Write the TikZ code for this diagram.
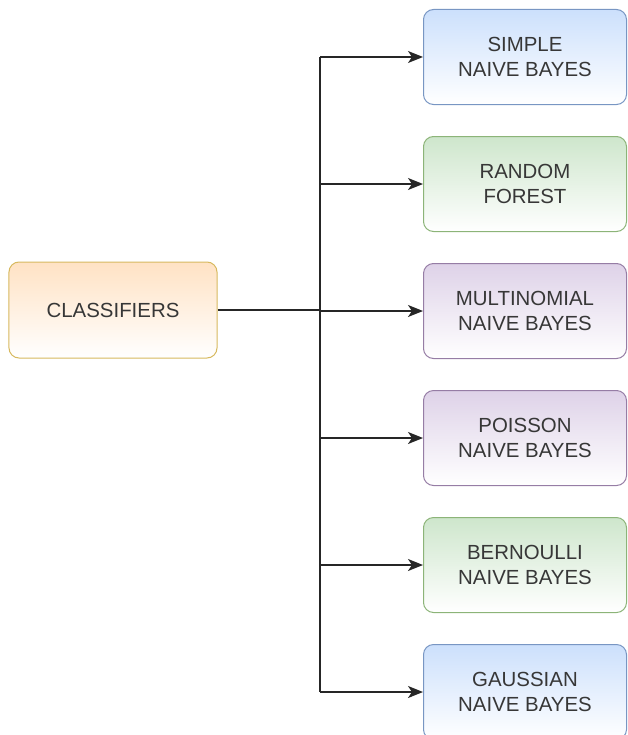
\documentclass[tikz,border=0pt]{standalone}
\usepackage{fontspec}
\setmainfont{Liberation Sans}
\usepackage{xcolor}
\usepackage{tikz}
\usetikzlibrary{arrows.meta, positioning, calc}
\definecolor{txtgray}{RGB}{55,55,55}
\definecolor{bluefill}{RGB}{204,224,252}
\definecolor{blueline}{RGB}{120,150,195}
\definecolor{greenfill}{RGB}{206,230,204}
\definecolor{greenline}{RGB}{140,180,120}
\definecolor{purplefill}{RGB}{222,210,232}
\definecolor{purpleline}{RGB}{150,125,165}
\definecolor{orangefill}{RGB}{255,226,196}
\definecolor{orangeline}{RGB}{215,185,95}

\begin{document}
\begin{tikzpicture}[
    x=1bp, y=-1bp,
    algo/.style={draw, line width=1bp, rounded corners=10bp, minimum width=203bp,
                minimum height=95bp, align=center, text=txtgray,
                font=\fontsize{20.5}{25}\selectfont},
    blue box/.style={algo, draw=blueline, top color=bluefill, bottom color=white},
    green box/.style={algo, draw=greenline, top color=greenfill, bottom color=white},
    purple box/.style={algo, draw=purpleline, top color=purplefill, bottom color=white},
    link/.style={line width=1.6bp, draw=black!85},
    arrow/.style={link, -{Stealth[length=15bp, width=12bp, inset=4bp]}}
]
\useasboundingbox (0,0) rectangle (628,735);
\node[algo, draw=orangeline, top color=orangefill, bottom color=white,
      minimum width=208bp, minimum height=96bp] (cls) at (113,310) {CLASSIFIERS};
\node[blue box]   (snb) at (525,57) {SIMPLE\\NAIVE BAYES};
\node[green box, below=31bp of snb]  (rf)  {RANDOM\\FOREST};
\node[purple box, below=31bp of rf]  (mnb) {MULTINOMIAL\\NAIVE BAYES};
\node[purple box, below=31bp of mnb] (pnb) {POISSON\\NAIVE BAYES};
\node[green box, below=31bp of pnb]  (bnb) {BERNOULLI\\NAIVE BAYES};
\node[blue box, below=31bp of bnb]   (gnb) {GAUSSIAN\\NAIVE BAYES};
\coordinate (trunk) at (320,310);
\draw[link] (cls) -- (trunk);
\draw[link] (trunk |- snb) -- (trunk |- gnb);
\foreach \n in {snb, rf, mnb, pnb, bnb, gnb}
    \draw[arrow] (trunk |- \n) -- (\n);
\end{tikzpicture}
\end{document}
